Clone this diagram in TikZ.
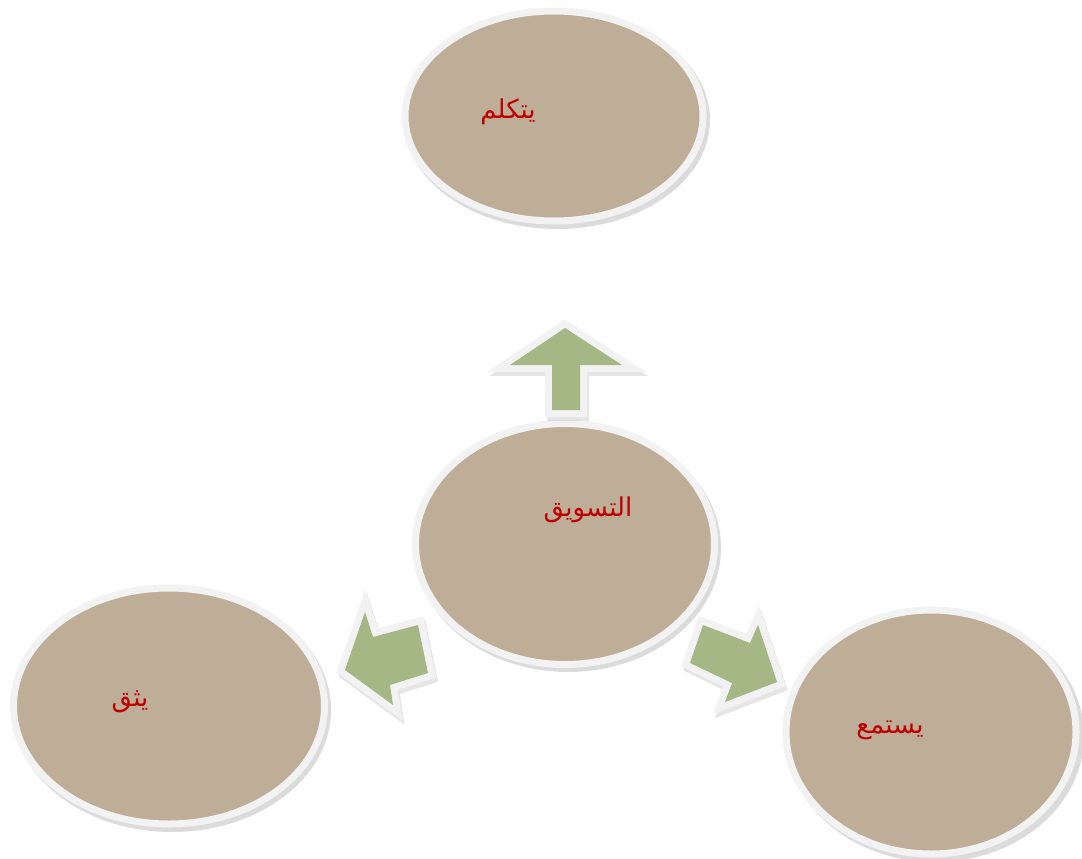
\documentclass[tikz,border=0pt]{standalone}
\usepackage{fontspec}
\newfontfamily\arabicfont[Script=Arabic]{DejaVu Sans}
\TeXXeTstate=1
\usetikzlibrary{shapes.geometric}
\definecolor{bubblefill}{HTML}{BEAE98}
\definecolor{rimwhite}{HTML}{F2F2F2}
\definecolor{arrowgreen}{HTML}{A6B786}
\definecolor{labelred}{HTML}{C00000}
\begin{document}
\begin{tikzpicture}[x=1pt,y=-1pt,
  bubble/.style={ellipse, draw=rimwhite, line width=7pt, fill=bubblefill, inner sep=0pt},
  bubbleshade/.style={ellipse, fill=black, opacity=0.14, inner sep=0pt},
  tag/.style={font=\arabicfont\fontsize{26}{30}\selectfont, text=labelred, inner sep=0pt},
  arrowrim/.style={draw=rimwhite, line width=14pt, line join=miter, miter limit=20},
  arrowshade/.style={draw=black, fill=black, opacity=0.10, line width=14pt, line join=miter, miter limit=20},
  arrowbody/.style={fill=arrowgreen}]
\useasboundingbox (0,0) rectangle (1082,859);
\fill[white] (0,0) rectangle (1082,859);

% soft shadows under the bubbles
\node[bubbleshade, minimum width=306, minimum height=218] at (557,120) {};
\node[bubbleshade, minimum width=306, minimum height=248] at (568,548) {};
\node[bubbleshade, minimum width=318, minimum height=244] at (172,710) {};
\node[bubbleshade, minimum width=298, minimum height=252] at (935,736) {};

% bubbles
\node[bubble, minimum width=298, minimum height=210] (talk) at (554,116) {};
\node[bubble, minimum width=299, minimum height=241] (market) at (565,544) {};
\node[bubble, minimum width=311, minimum height=236] (trust) at (169,706) {};
\node[bubble, minimum width=290, minimum height=244] (listen) at (931,732) {};

% labels
\node[tag] (talklbl) at (508,112) {\beginR يتكلم\endR};
\node[tag] (marketlbl) at (588,510) {\beginR التسويق\endR};
\node[tag] (trustlbl) at (130,702) {\beginR يثق\endR};
\node[tag] (listenlbl) at (890,730) {\beginR يستمع\endR};

% block arrows: up, lower-left, lower-right (shadow, white rim, green body)
\begin{scope}[shift={(2,4)}]
  \filldraw[arrowshade] (565,328) -- (622,365) -- (580,365) -- (580,410) -- (552,410) -- (552,365) -- (510,365) -- cycle;
  \filldraw[arrowshade] (345,670) -- (365,612) -- (373,637) -- (418,625) -- (428,673) -- (390,685) -- (393,705) -- cycle;
  \filldraw[arrowshade] (777,682) -- (758,625) -- (750,643) -- (703,625) -- (690,663) -- (732,683) -- (725,702) -- cycle;
\end{scope}
\draw[arrowrim] (565,328) -- (622,365) -- (580,365) -- (580,410) -- (552,410) -- (552,365) -- (510,365) -- cycle;
\draw[arrowrim] (345,670) -- (365,612) -- (373,637) -- (418,625) -- (428,673) -- (390,685) -- (393,705) -- cycle;
\draw[arrowrim] (777,682) -- (758,625) -- (750,643) -- (703,625) -- (690,663) -- (732,683) -- (725,702) -- cycle;
\fill[arrowbody] (565,328) -- (622,365) -- (580,365) -- (580,410) -- (552,410) -- (552,365) -- (510,365) -- cycle;
\fill[arrowbody] (345,670) -- (365,612) -- (373,637) -- (418,625) -- (428,673) -- (390,685) -- (393,705) -- cycle;
\fill[arrowbody] (777,682) -- (758,625) -- (750,643) -- (703,625) -- (690,663) -- (732,683) -- (725,702) -- cycle;
\end{tikzpicture}
\end{document}
